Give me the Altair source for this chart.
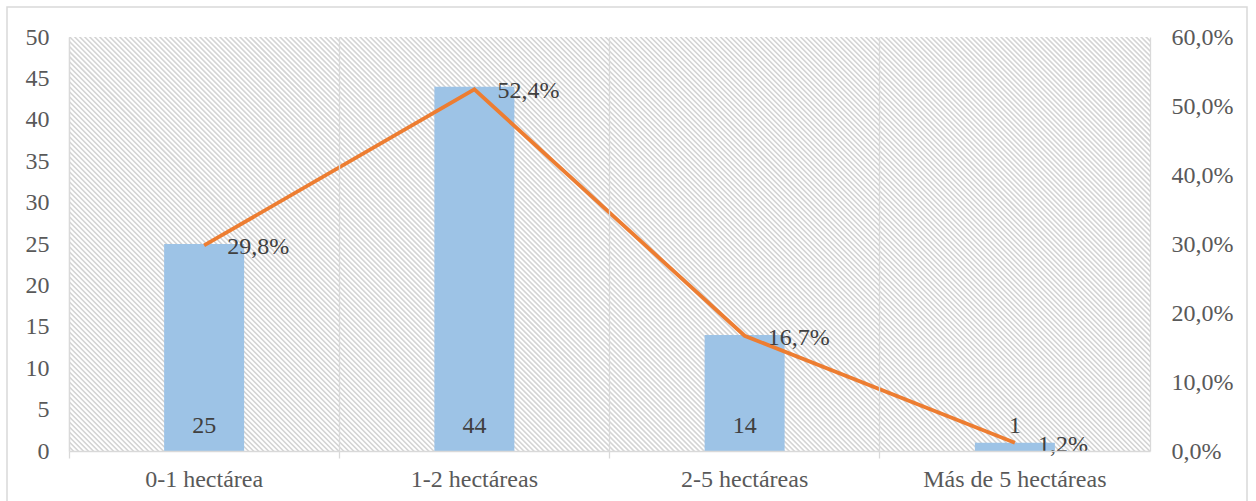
import altair as alt
import pandas as pd

# Farm size classes, number of farms and share of the total
categories = ["0-1 hectárea", "1-2 hectáreas", "2-5 hectáreas", "Más de 5 hectáreas"]
counts = [25, 44, 14, 1]
percents = [29.8, 52.4, 16.7, 1.2]

df = pd.DataFrame({
    "cat": categories,
    "count": counts,
    "pct": percents,
    "pct_label": [f"{p:.1f}".replace(".", ",") + "%" for p in percents],
})
one = pd.DataFrame({"k": [0]})

W, H = 1081, 414
FONT = "Liberation Serif"
FS = 24
TXT = "#595959"
LBL = "#404040"
GRID = "#d9d9d9"

x_enc = alt.X(
    "cat:N",
    sort=categories,
    scale=alt.Scale(paddingInner=0, paddingOuter=0),
    axis=alt.Axis(
        title=None, labelAngle=0, bandPosition=0, grid=True, gridColor=GRID,
        gridWidth=1.3, ticks=True, tickColor=GRID, tickSize=7, tickWidth=1.3,
        domainColor=GRID, domainWidth=1.3, labelFont=FONT, labelFontSize=FS,
        labelColor=TXT, labelPadding=9, labelLimit=400, zindex=1,
    ),
)

# Diagonal hatch: one very wide dashed stroke running up-right across the plot
hatch = alt.Chart(one).mark_rule(
    stroke="#d4d4d4", strokeWidth=1200, strokeDash=[1.6, 1.94], strokeCap="butt", clip=True
).encode(
    x=alt.value(W / 2 - 620), y=alt.value(H / 2 + 620),
    x2=alt.value(W / 2 + 620), y2=alt.value(H / 2 - 620),
)

bars = alt.Chart(df).mark_bar(size=80, color="#9DC3E6").encode(
    x=x_enc,
    y=alt.Y(
        "count:Q",
        scale=alt.Scale(domain=[0, 50]),
        axis=alt.Axis(
            title=None, values=list(range(0, 51, 5)), grid=False, ticks=False,
            domainColor=GRID, domainWidth=1.3, labelFont=FONT, labelFontSize=FS,
            labelColor=TXT, labelPadding=20,
        ),
    ),
)
bar_labels = alt.Chart(df).mark_text(
    font=FONT, fontSize=FS, color=LBL, baseline="middle", dy=-25
).encode(x=alt.X("cat:N", sort=categories), y=alt.datum(0), text=alt.Text("count:Q"))
left = alt.layer(bars, bar_labels)

line = alt.Chart(df).mark_line(color="#ED7D31", strokeWidth=3.8).encode(
    x=alt.X("cat:N", sort=categories),
    y=alt.Y(
        "pct:Q",
        scale=alt.Scale(domain=[0, 60]),
        axis=alt.Axis(
            title=None, orient="right", values=list(range(0, 61, 10)), grid=False,
            ticks=False, domainColor=GRID, domainWidth=1.3, labelFont=FONT,
            labelFontSize=FS, labelColor=TXT, labelPadding=21,
            labelExpr="replace(format(datum.value, '.1f'), '.', ',') + '%'",
        ),
    ),
)
pct_labels = alt.Chart(df).mark_text(
    font=FONT, fontSize=FS, color=LBL, align="left", baseline="middle",
    dx=23, dy=2,
).encode(x=alt.X("cat:N", sort=categories), y="pct:Q", text="pct_label:N")
right = alt.layer(line, pct_labels)

frame = alt.Chart(one).mark_rect(
    fill="transparent", stroke=GRID, strokeWidth=1.5, clip=False
).encode(
    x=alt.value(-62), x2=alt.value(1178), y=alt.value(-30), y2=alt.value(475)
)

chart = (
    alt.layer(hatch, left, right, frame)
    .resolve_scale(y="independent")
    .properties(
        width=W, height=H, autosize="none",
        padding={"left": 69, "top": 37, "right": 106, "bottom": 50},
        background="white",
    )
    .configure_view(strokeWidth=0)
)

chart.save("out.html", embed_options={"renderer": "svg", "actions": False})
